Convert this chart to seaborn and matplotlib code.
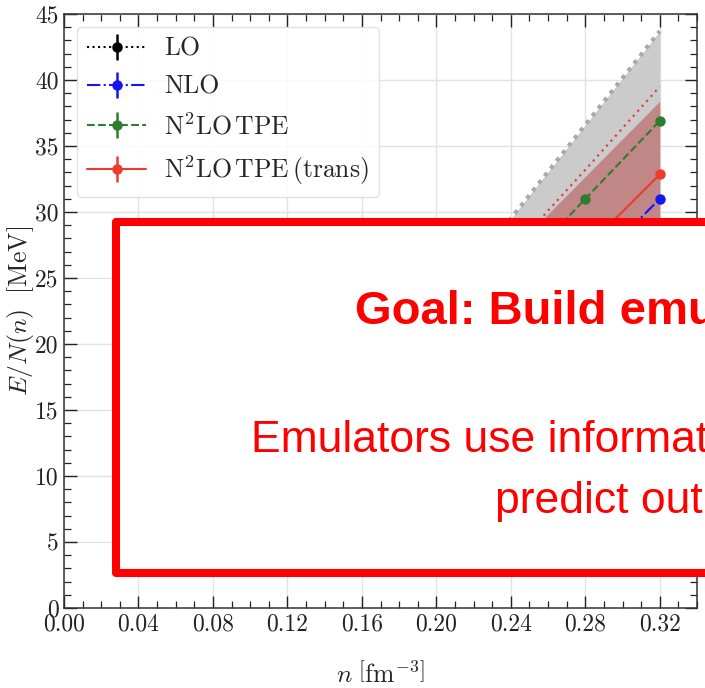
import numpy as np
import pandas as pd
import matplotlib
matplotlib.use("Agg")
import matplotlib.pyplot as plt
import seaborn as sns
from matplotlib.patches import Rectangle
from matplotlib.ticker import MultipleLocator

# ---------------- data ----------------
density = [0.04, 0.08, 0.12, 0.16, 0.20, 0.24, 0.28, 0.32]
lo_vals = [5.8, 7.8, 9.6, 11.5, 13.4, 15.3, 17.2, 19.2]
nlo_vals = [6.6, 9.3, 12.0, 14.8, 17.8, 21.2, 25.3, 31.0]
n2lo_vals = [7.0, 9.8, 12.8, 16.0, 20.0, 25.0, 31.0, 36.9]
n2lo_trans_vals = [6.8, 9.6, 12.4, 15.4, 18.8, 22.8, 27.2, 32.85]
err_vals = [0.0, 0.0, 0.0, 0.0, 0.0, 0.0, 0.0, 0.0]

gray_band_low = [4.5, 6.5, 8.5, 10.5, 12.5, 15.0, 17.5, 20.0]
gray_band_high = [6.5, 10.0, 14.0, 18.5, 23.5, 29.5, 36.6, 43.7]
red_band_low = [5.8, 8.2, 10.5, 12.8, 15.0, 18.0, 21.5, 25.5]
red_band_high = [6.8, 9.8, 13.5, 17.5, 22.0, 27.0, 32.7, 38.4]
red_dotted = [7.0, 10.0, 13.6, 17.5, 22.0, 27.0, 33.2, 39.5]

labels = ["LO", "NLO", r"N$^2$LO$\,$TPE", r"N$^2$LO$\,$TPE$\,$(trans)"]
x_ticks = [0.00, 0.04, 0.08, 0.12, 0.16, 0.20, 0.24, 0.28, 0.32]
y_ticks = [0, 5, 10, 15, 20, 25, 30, 35, 40, 45]

goal_text = "Goal: Build emu"
emu_line1 = "Emulators use informat"
emu_line2 = "predict out"

# ---------------- style ----------------
sns.set_style("ticks")
plt.rcParams["font.family"] = ["serif"]
plt.rcParams["font.serif"] = ["cmr10", "DejaVu Serif"]
plt.rcParams["mathtext.fontset"] = "cm"
plt.rcParams["axes.formatter.use_mathtext"] = True
plt.rcParams["axes.unicode_minus"] = False

fig = plt.figure(figsize=(7.05, 6.88), dpi=100)
ax = fig.add_axes([0.0908, 0.1163, 0.8979, 0.8634])

df = pd.DataFrame({"n": density, "gray_hi": gray_band_high, "red_dot": red_dotted})

# bands
ax.fill_between(density, gray_band_low, gray_band_high, color="#cbcbcb", lw=0, zorder=1)
ax.fill_between(density, red_band_low, red_band_high, color="#b22222", alpha=0.40, lw=0, zorder=2)
sns.lineplot(data=df, x="n", y="gray_hi", ax=ax, color="#a9a9a9", lw=3.0,
             linestyle=(0, (1, 1.3)), zorder=3, legend=False)
sns.lineplot(data=df, x="n", y="red_dot", ax=ax, color="#d8434a", lw=1.6,
             linestyle=(0, (1, 2)), zorder=3, legend=False)

series = [
    (lo_vals, "black", ":", labels[0]),
    (nlo_vals, "#1515f0", "-.", labels[1]),
    (n2lo_vals, "#2e7d2e", "--", labels[2]),
    (n2lo_trans_vals, "#ee3b2b", "-", labels[3]),
]
for vals, col, ls, lab in series:
    ax.errorbar(density, vals, yerr=err_vals, color=col, ls=ls, lw=1.5,
                marker="o", ms=6.5, elinewidth=1.8, label=lab, zorder=4)

ax.set_xlim(0, 0.34)
ax.set_ylim(0, 45)
ax.set_xticks(x_ticks)
ax.set_xticklabels([f"{t:.2f}" for t in x_ticks])
ax.set_yticks(y_ticks)
ax.set_yticklabels([str(t) for t in y_ticks])
ax.xaxis.set_minor_locator(MultipleLocator(0.01))
ax.yaxis.set_minor_locator(MultipleLocator(1))
ax.tick_params(which="both", direction="in", top=True, right=True, labelsize=17, colors="#222222")
ax.tick_params(which="major", length=9, width=1.0, pad=4)
ax.tick_params(which="minor", length=5, width=0.9)
ax.grid(True, which="major", color="#e2e2e2", lw=1.0, zorder=0)
ax.set_axisbelow(True)
for s in ax.spines.values():
    s.set_color("#333333")
    s.set_linewidth(1.1)

ax.set_xlabel(r"$n\ \left[\mathrm{fm}^{-3}\right]$", fontsize=18.5)
ax.xaxis.set_label_coords(0.5, -0.091)
ax.set_ylabel(r"$E/N(n)\ \ [\mathrm{MeV}]$", fontsize=18.5)
ax.yaxis.set_label_coords(-0.044, 0.5)

leg = ax.legend(loc="upper left", fontsize=18.5, handlelength=2.3, handletextpad=0.7,
                labelspacing=0.55, borderaxespad=0.5, borderpad=0.4,
                frameon=True, fancybox=True, framealpha=0.85, edgecolor="#dddddd")

# overlay box with slide text
box = Rectangle((0.1645, 0.1672), 0.95, 0.510, transform=fig.transFigure,
                facecolor="white", edgecolor="#ff0000", lw=5.8, zorder=10,
                joinstyle="round")
fig.patches.append(box)
fig.text(355 / 705, 1 - 324 / 688, goal_text, fontsize=34, fontweight="bold",
         color="#ff0000", family="Liberation Sans", ha="left", va="baseline", zorder=11)
fig.text(251 / 705, 1 - 452 / 688, emu_line1, fontsize=32,
         color="#ff0000", family="Liberation Sans", ha="left", va="baseline", zorder=11)
fig.text(495 / 705, 1 - 513 / 688, emu_line2, fontsize=32,
         color="#ff0000", family="Liberation Sans", ha="left", va="baseline", zorder=11)

fig.savefig("out.png", dpi=100)
